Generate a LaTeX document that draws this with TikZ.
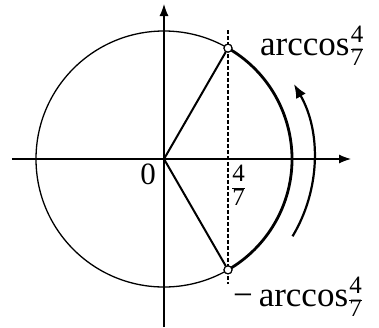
\documentclass[tikz,border=0pt]{standalone}
\usepackage{fontspec}
\setmainfont{Liberation Serif}
\usetikzlibrary{arrows.meta}
\newcommand{\lblfont}{\fontsize{35}{40}\selectfont}
\newcommand{\frfont}{\fontsize{25}{25}\selectfont}
\newcommand{\myfr}[2]{$\frac{\mbox{\frfont\raisebox{3pt}{#1}}}{\mbox{\frfont\raisebox{-1pt}{#2}}}$}
\begin{document}
\begin{tikzpicture}[x=1pt,y=1pt,
  thinline/.style={line width=1.3pt},
  axis/.style={line width=1.2pt,-{Latex[length=12pt,width=9pt]}},
  radius line/.style={line width=2pt},
  arcline/.style={line width=2.8pt},
  pt/.style={circle,draw,fill=white,line width=1.1pt,minimum size=8pt,inner sep=0pt},
  lbl/.style={inner sep=0pt,font=\lblfont}]
\useasboundingbox (-164,-168) rectangle (215,159);
\coordinate (O) at (0,0);
\coordinate (xs) at (-152,0);
\coordinate (xe) at (187,0);
\coordinate (ys) at (0,-168);
\coordinate (ye) at (0,155);
\coordinate (dt) at (64,129);
\coordinate (db) at (64,-125);
\draw[thinline] (O) circle[radius=128];
\draw[axis] (xs) -- (xe);
\draw[axis] (ys) -- (ye);
\draw[line width=1.3pt,dash pattern=on 3.5pt off 2.5pt] (dt) -- (db);
\draw[arcline] (60:128) arc[start angle=60,end angle=-60,radius=128];
\node[pt] (P) at (60:128) {};
\node[pt] (Q) at (-60:128) {};
\draw[radius line] (O) -- (P);
\draw[radius line] (O) -- (Q);
\node[pt] at (P) {};
\node[pt] at (Q) {};
\draw[line width=2.2pt,-{Latex[length=14pt,width=11pt]}] (-31:150) arc[start angle=-31,end angle=30,radius=150];
\node[lbl,anchor=base west] (la) at (96,104) {arccos\myfr{4}{7}};
\node[lbl,anchor=base west] (lb) at (69,-147) {−\,arccos\myfr{4}{7}};
\node[inner sep=0pt,anchor=base,font=\fontsize{31}{36}\selectfont] (zero) at (-16,-25) {0};
\node[inner sep=0pt,anchor=west] (fx) at (67,-26) {\lblfont\myfr{4}{7}};
\end{tikzpicture}
\end{document}
